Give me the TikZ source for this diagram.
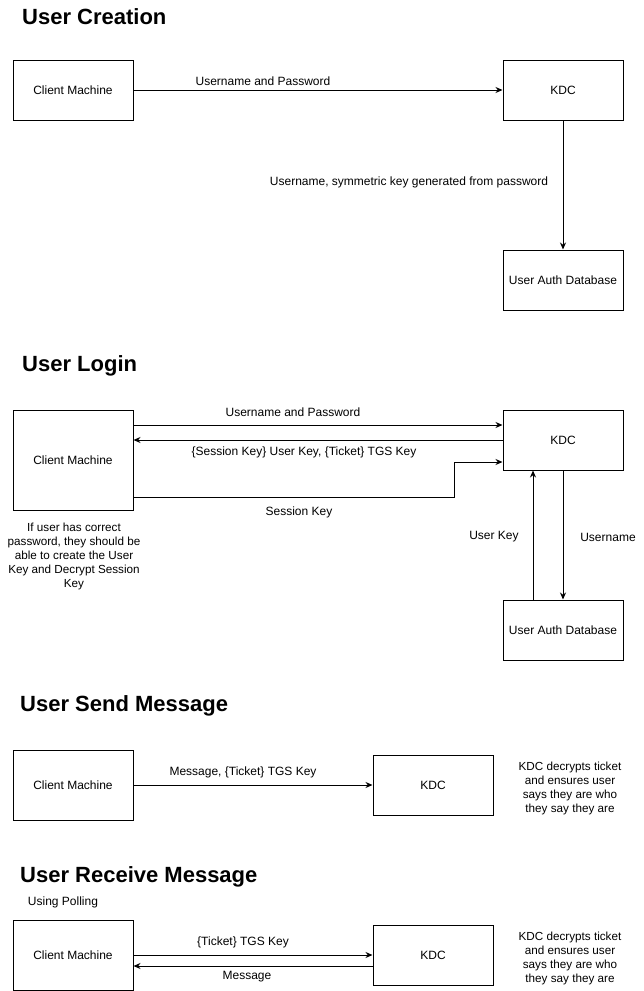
\documentclass[tikz,border=0pt]{standalone}
\usepackage{fontspec}
\setmainfont{Liberation Sans}
\usepackage{tikz}
\usetikzlibrary{positioning,arrows.meta}

\begin{document}
\begin{tikzpicture}[x=1pt,y=-1pt,
        box/.style={draw, line width=1pt, minimum width=120pt, minimum height=60pt, inner sep=0pt, font=\fontsize{12}{14}\selectfont},
        lbl/.style={inner sep=0pt, font=\fontsize{12}{14}\selectfont},
        note/.style={inner sep=0pt, align=center, font=\fontsize{11.7}{14}\selectfont},
        heading/.style={anchor=west, inner sep=0pt, font=\fontsize{22}{26}\selectfont\bfseries},
        arr/.style={line width=1pt, -{Stealth[length=7pt,width=6pt]}}]
        \useasboundingbox (0,0) rectangle (644,991);

        % User Creation
        \node[heading] (title1) at (22,17) {User Creation};
        \node[box] (cm1) at (73,90) {Client Machine};
        \node[box] (kdc1) at (563,90) {KDC};
        \node[box] (db1) at (563,280) {User Auth Database};
        \draw[arr] (cm1) -- (kdc1);
        \draw[arr] (kdc1) -- (db1);
        \node[lbl] (l1a) at (263,81) {Username and Password};
        \node[lbl] (l1b) at (409,182) {Username, symmetric key generated from password};

        % User Login
        \node[heading] (title2) at (22,366) {User Login};
        \node[box, minimum height=100pt] (cm2) at (73,460) {Client Machine};
        \node[box] (kdc2) at (563,440) {KDC};
        \node[box] (db2) at (563,630) {User Auth Database};
        \coordinate (k2a) at ([yshift=15pt]kdc2.west);
        \coordinate (k2s) at ([yshift=-22pt]kdc2.west);
        \coordinate (c2s) at ([yshift=-37pt]cm2.east);
        \draw[arr] (k2a -| cm2.east) -- (k2a);
        \draw[arr] (kdc2.west) -- (kdc2.west -| cm2.east);
        \draw[arr] (c2s) -- ++(321,0) |- (k2s);
        \draw[arr] ([xshift=-30pt]db2.north) -- ([xshift=-30pt]kdc2.south);
        \draw[arr] (kdc2.south) -- (db2.north);
        \node[lbl] (l2a) at (293,412) {Username and Password};
        \node[lbl] (l2b) at (304,452) {\{Session Key\} User Key, \{Ticket\} TGS Key};
        \node[lbl] (l2c) at (299,512) {Session Key};
        \node[lbl] (l2d) at (494,537) {User Key};
        \node[lbl] (l2e) at (608,537) {Username};
        \node[note] (n2) at (74,556) {If user has correct\\password, they should be\\able to create the User\\Key and Decrypt Session\\Key};

        % User Send Message
        \node[heading] (title3) at (20,706) {User Send Message};
        \node[box, minimum height=70pt] (cm3) at (73,785) {Client Machine};
        \node[box] (kdc3) at (433,785) {KDC};
        \draw[arr] (cm3) -- (kdc3);
        \node[lbl] (l3a) at (243,772) {Message, \{Ticket\} TGS Key};
        \node[note] (n3) at (570,788) {KDC decrypts ticket\\and ensures user\\says they are who\\they say they are};

        % User Receive Message
        \node[heading] (title4) at (20,877) {User Receive Message};
        \node[lbl] (poll) at (63,902) {Using Polling};
        \node[box, minimum height=70pt] (cm4) at (73,955) {Client Machine};
        \node[box] (kdc4) at (433,955) {KDC};
        \coordinate (k4b) at ([yshift=-11pt]kdc4.west);
        \draw[arr] (cm4) -- (kdc4);
        \draw[arr] (k4b) -- (k4b -| cm4.east);
        \node[lbl] (l4a) at (243,942) {\{Ticket\} TGS Key};
        \node[lbl] (l4b) at (247,977) {Message};
        \node[note] (n4) at (570,958) {KDC decrypts ticket\\and ensures user\\says they are who\\they say they are};
    \end{tikzpicture}
\end{document}
